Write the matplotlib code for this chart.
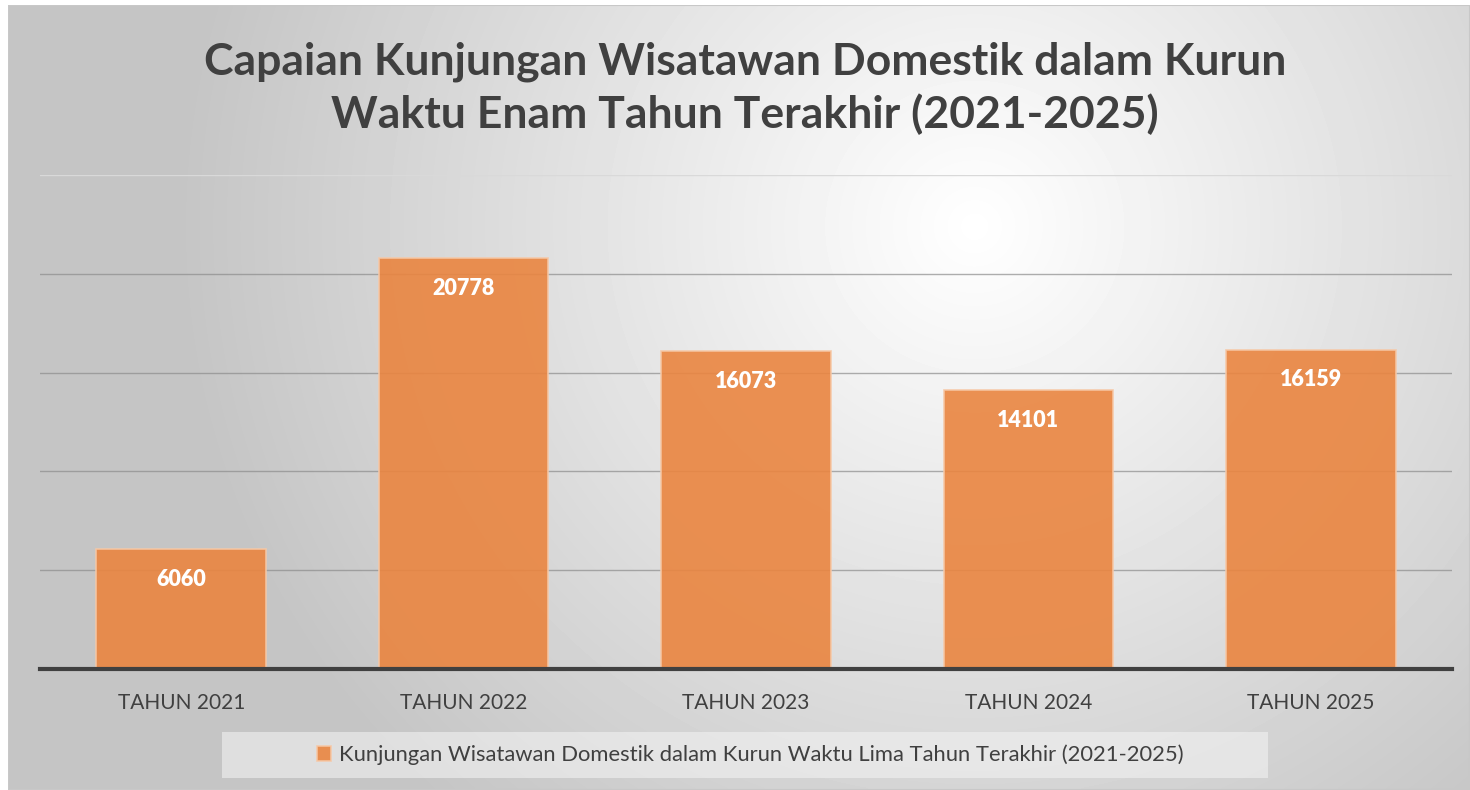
import numpy as np
import matplotlib
matplotlib.use("Agg")
import matplotlib.pyplot as plt
from matplotlib.patches import Rectangle

# data
categories = ["TAHUN 2021", "TAHUN 2022", "TAHUN 2023", "TAHUN 2024", "TAHUN 2025"]
values = [6060, 20778, 16073, 14101, 16159]
series_name = "Kunjungan Wisatawan Domestik dalam Kurun Waktu Lima Tahun Terakhir (2021-2025)"
title = "Capaian Kunjungan Wisatawan Domestik dalam Kurun\nWaktu Enam Tahun Terakhir (2021-2025)"

plt.rcParams["font.family"] = ["Lato", "DejaVu Sans"]

W, H = 1470, 790
fig = plt.figure(figsize=(W / 100, H / 100), dpi=100)
fig.patch.set_facecolor("white")

# radial gradient background for the chart area
bg = fig.add_axes([8 / W, 0, 1 - 8 / W, 1 - 5 / H])
yy, xx = np.mgrid[0:200, 0:400]
cx, cy = 0.66 * 400, 0.28 * 200
r = np.sqrt(((xx - cx) / 400) ** 2 + ((yy - cy) / 200 * 0.55) ** 2)
shade = np.clip(1.0 - r * 0.42, 0.77, 1.0)
bg.imshow(shade, cmap="gray", vmin=0, vmax=1, aspect="auto", extent=[0, 1, 0, 1],
          origin="upper", interpolation="bilinear")
bg.set_xlim(0, 1)
bg.set_ylim(0, 1)
bg.axis("off")
bg.add_patch(Rectangle((0, 0), 1, 1, transform=bg.transAxes, fill=False,
                       edgecolor="#c8c8c8", linewidth=1.5))

# plot area
ax = fig.add_axes([40 / W, 1 - 669 / H, 1412 / W, (669 - 175) / H])
ax.set_facecolor("none")
x = np.arange(len(categories))
bars = ax.bar(x, values, width=0.6, color="#ea8540", alpha=0.9,
              edgecolor="#f6c8a6", linewidth=1.2, zorder=3,
              label=series_name)
ax.set_xlim(-0.5, len(categories) - 0.5)
ax.set_ylim(0, 25000)
ax.set_yticks(np.arange(5000, 20001, 5000))
ax.yaxis.grid(True, color="#8c8c8c", linewidth=1.0, alpha=0.7, zorder=0)
# top gridline is fainter in the original
ax.axhline(25000, color="#d9d9d9", linewidth=1.0, zorder=0)
ax.tick_params(axis="y", left=False, labelleft=False)
ax.tick_params(axis="x", bottom=False, labelsize=15, labelcolor="#404040", pad=14)
ax.set_xticks(x)
ax.set_xticklabels(categories)
for s in ["top", "left", "right"]:
    ax.spines[s].set_visible(False)
ax.spines["bottom"].set_color("#404040")
ax.spines["bottom"].set_linewidth(3)
ax.spines["bottom"].set_zorder(4)

for b, v in zip(bars, values):
    ax.annotate(str(v), (b.get_x() + b.get_width() / 2, v), xytext=(0, -29),
                textcoords="offset points", ha="center", va="bottom",
                color="white", fontsize=15.5, fontweight="heavy", zorder=5)

fig.text(745 / W, 1 - 88 / H, title, ha="center", va="center", fontsize=32,
         fontweight="bold", color="#404040", linespacing=1.33)

# legend box
fig.patches.append(Rectangle((222 / W, 1 - 778 / H), (1268 - 222) / W, 46 / H,
                             transform=fig.transFigure, facecolor="#f2f2f2",
                             alpha=0.6, edgecolor="none", zorder=1))
leg = fig.legend(loc="center", bbox_to_anchor=(750 / W, 1 - 755 / H), frameon=False,
                 fontsize=15.8, handlelength=0.65, handleheight=0.65, handletextpad=0.35)
for t in leg.get_texts():
    t.set_color("#404040")

fig.savefig("out.png", dpi=100)
